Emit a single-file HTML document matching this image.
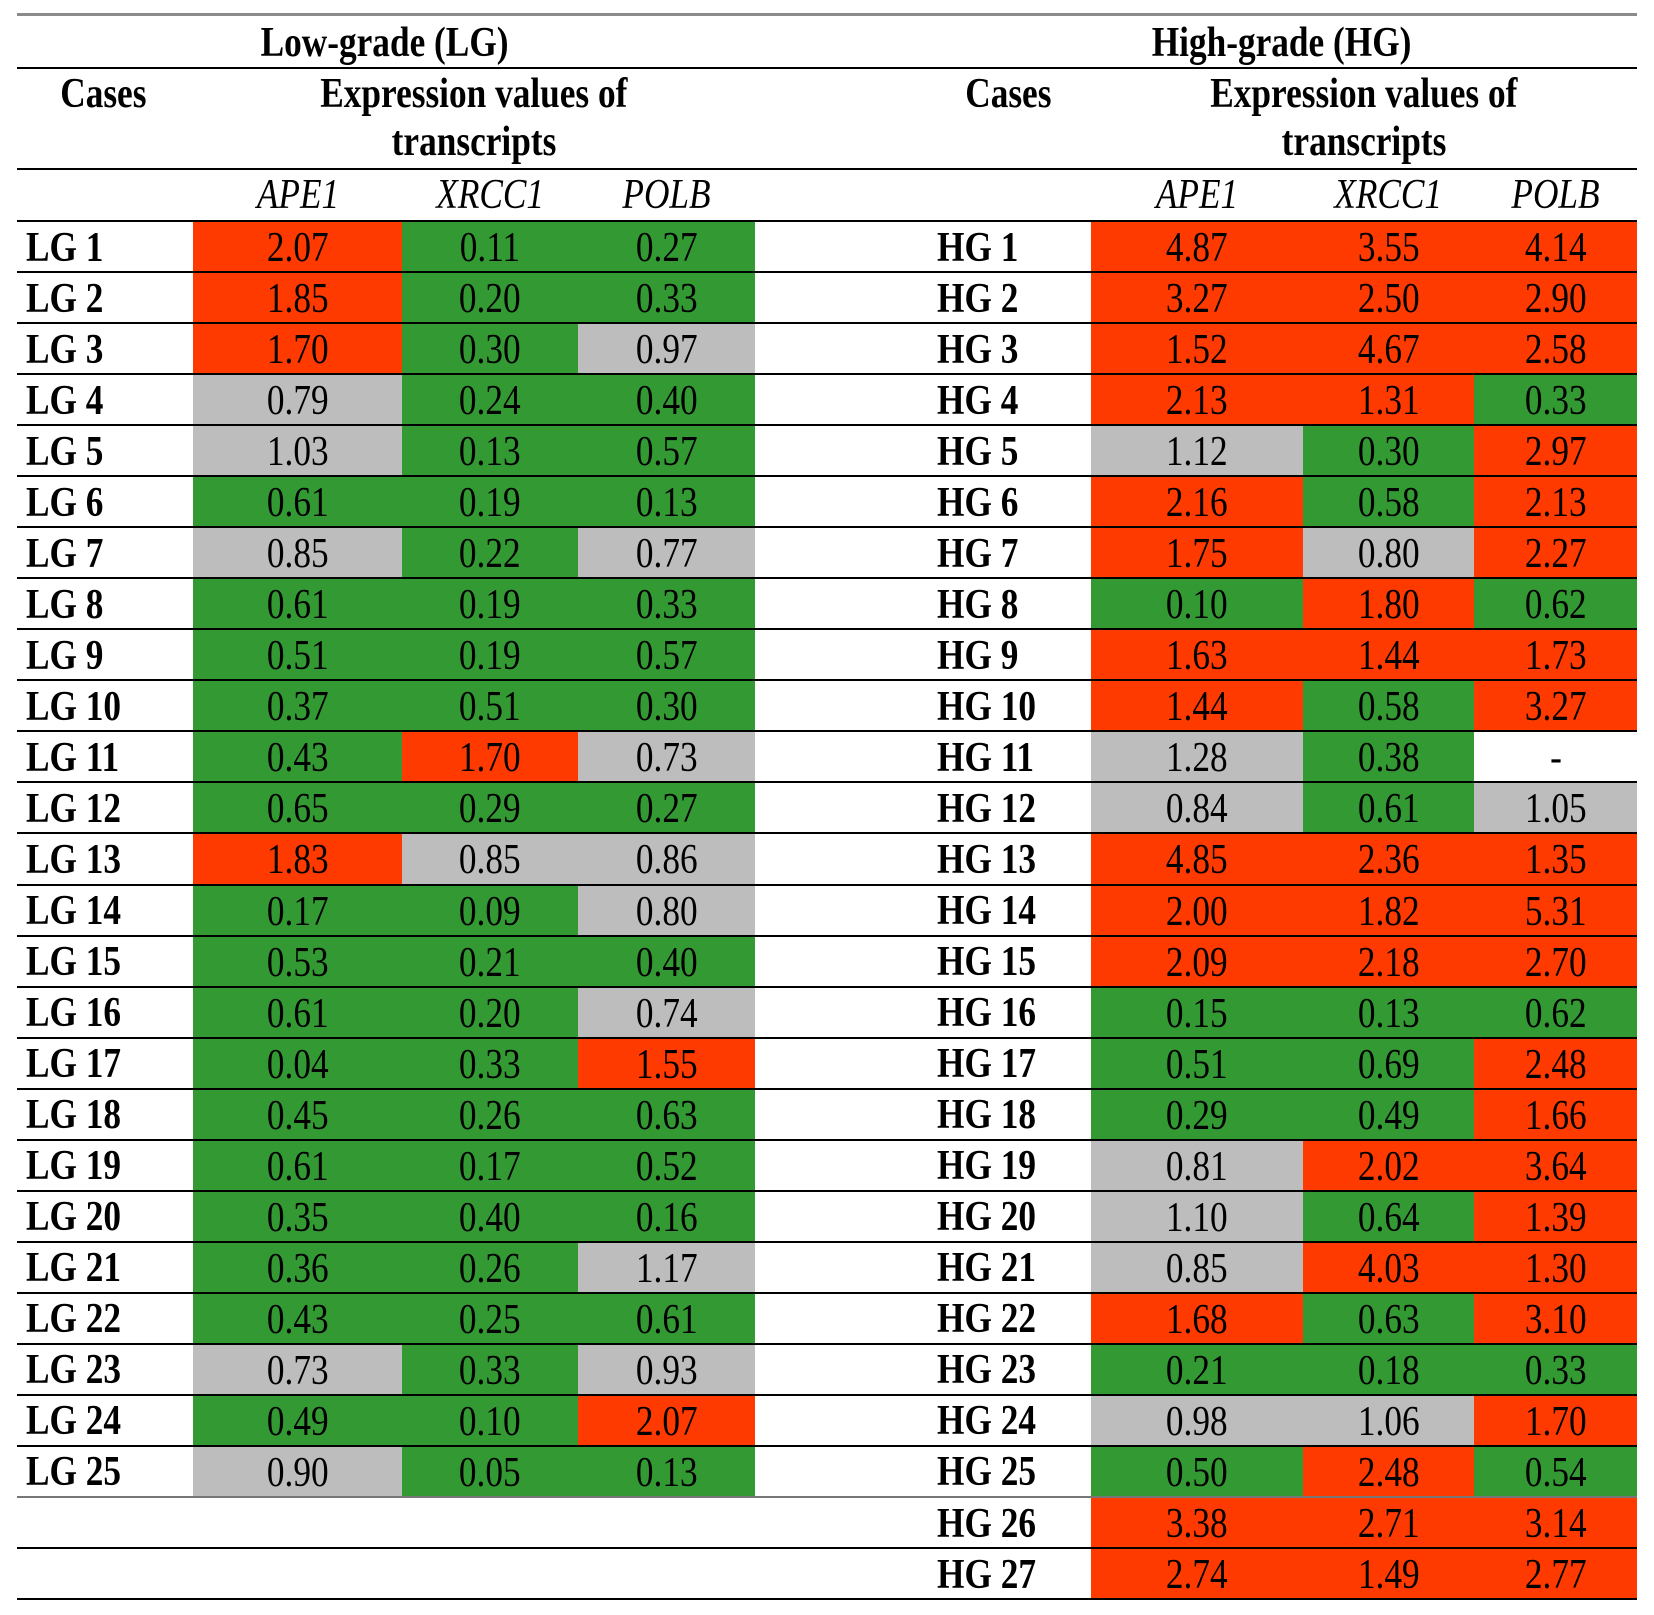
<!DOCTYPE html>
<html><head><meta charset="utf-8">
<style>
body{margin:0;background:#fff;}
#t{position:relative;width:1654px;height:1615px;overflow:hidden;font-family:"Liberation Serif",serif;color:#000;}
.a{position:absolute;}
.h{font-weight:bold;font-size:42px;text-align:center;line-height:48px;}
.h span,.c span,.lab span{display:inline-block;transform:scaleX(0.84);}
.c{display:flex;align-items:center;justify-content:center;font-size:42px;padding-top:2px;box-sizing:border-box;}
.lab{display:flex;align-items:center;font-weight:bold;font-size:42px;padding-top:2px;box-sizing:border-box;}
.lab span{transform-origin:left center;}
.ln{position:absolute;left:17px;width:1620px;height:2px;background:#000;}
</style></head><body>
<div id="t">
<div class="a" style="left:17px;top:13px;width:1620px;height:3px;background:#8a8a8a"></div>
<div class="a h" style="left:185px;width:400px;top:19px"><span>Low-grade (LG)</span></div>
<div class="a h" style="left:1082px;width:400px;top:19px"><span>High-grade (HG)</span></div>
<div class="ln" style="top:67px"></div>
<div class="a h" style="left:3px;width:200px;top:70px"><span>Cases</span></div>
<div class="a h" style="left:173px;width:602px;top:70px"><span>Expression values of</span><br><span>transcripts</span></div>
<div class="a h" style="left:908px;width:200px;top:70px"><span>Cases</span></div>
<div class="a h" style="left:1066px;width:596px;top:70px"><span>Expression values of</span><br><span>transcripts</span></div>
<div class="ln" style="top:168px"></div>
<div class="ln" style="top:220px"></div>
</div>
<script>
const genes=["APE1","XRCC1","POLB"];
const lgApe1=["2.07","1.85","1.70","0.79","1.03","0.61","0.85","0.61","0.51","0.37","0.43","0.65","1.83","0.17","0.53","0.61","0.04","0.45","0.61","0.35","0.36","0.43","0.73","0.49","0.90"];
const lgXrcc1=["0.11","0.20","0.30","0.24","0.13","0.19","0.22","0.19","0.19","0.51","1.70","0.29","0.85","0.09","0.21","0.20","0.33","0.26","0.17","0.40","0.26","0.25","0.33","0.10","0.05"];
const lgPolb=["0.27","0.33","0.97","0.40","0.57","0.13","0.77","0.33","0.57","0.30","0.73","0.27","0.86","0.80","0.40","0.74","1.55","0.63","0.52","0.16","1.17","0.61","0.93","2.07","0.13"];
const hgApe1=["4.87","3.27","1.52","2.13","1.12","2.16","1.75","0.10","1.63","1.44","1.28","0.84","4.85","2.00","2.09","0.15","0.51","0.29","0.81","1.10","0.85","1.68","0.21","0.98","0.50","3.38","2.74"];
const hgXrcc1=["3.55","2.50","4.67","1.31","0.30","0.58","0.80","1.80","1.44","0.58","0.38","0.61","2.36","1.82","2.18","0.13","0.69","0.49","2.02","0.64","4.03","0.63","0.18","1.06","2.48","2.71","1.49"];
const hgPolb=["4.14","2.90","2.58","0.33","2.97","2.13","2.27","0.62","1.73","3.27","-","1.05","1.35","5.31","2.70","0.62","2.48","1.66","3.64","1.39","1.30","3.10","0.33","1.70","0.54","3.14","2.77"];

const T=document.getElementById('t');
const rowTop=221, rowH=51.04;
function yOf(i){return rowTop+i*rowH;}
function color(v){if(v==='-')return '#fff';const n=parseFloat(v);if(n<0.7)return '#339933';if(n>=1.3)return '#ff3a00';return '#bdbdbd';}
function panel(prefix,cols,labX,colX,geneNames){
  geneNames.forEach((g,j)=>{
    const d=document.createElement('div');
    d.className='a c';
    d.style.cssText=`left:${colX[j]}px;width:${colX[j+1]-colX[j]}px;top:168px;height:52px;font-style:italic`;
    d.innerHTML='<span>'+g+'</span>';
    
    
    T.appendChild(d);
  });
  cols[0].forEach((_,i)=>{
    const y=yOf(i);
    const l=document.createElement('div');
    l.className='a lab';
    l.style.cssText=`left:${labX}px;top:${y}px;height:${rowH}px`;
    l.innerHTML='<span>'+prefix+' '+(i+1)+'</span>';
    
    
    T.appendChild(l);
    cols.forEach((col,j)=>{
      const c=document.createElement('div');
      c.className='a c';
      c.style.cssText=`left:${colX[j]}px;width:${colX[j+1]-colX[j]}px;top:${y+1}px;height:${rowH-1}px;background:${color(col[i])}`;
      c.innerHTML='<span>'+col[i]+'</span>';
      
      
      T.appendChild(c);
    });
  });
}
panel('LG',[lgApe1,lgXrcc1,lgPolb],26,[193,402,578,755],genes);
panel('HG',[hgApe1,hgXrcc1,hgPolb],937,[1091,1303,1474,1637],genes);
for(let i=1;i<=hgApe1.length;i++){
  const r=document.createElement('div');
  r.className='ln';
  r.style.top=(yOf(i)-1)+'px';
  if(i===hgApe1.length-2)r.style.background='#777';
  
  
  T.appendChild(r);
}
</script>
</body></html>
